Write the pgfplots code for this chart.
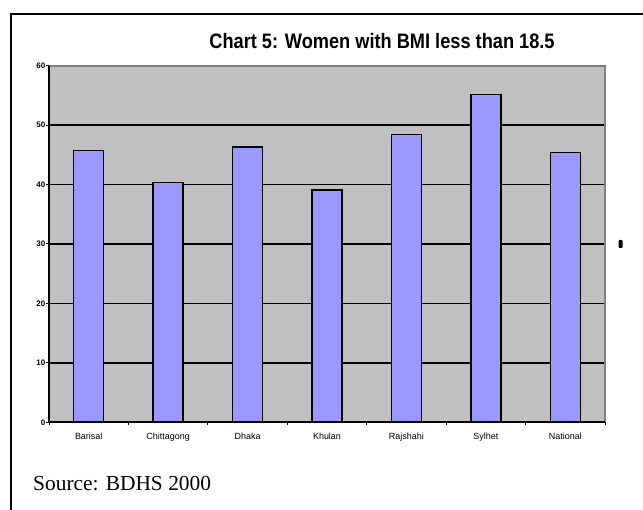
\documentclass[border=0pt]{standalone}
\usepackage{pgfplots}
\pgfplotsset{compat=1.18}
\usepackage{fontspec}
\setmainfont{Liberation Sans}
\newfontfamily\seriffont{Liberation Serif}
\definecolor{plotgray}{HTML}{C0C0C0}
\definecolor{bordergray}{HTML}{808080}
\definecolor{barblue}{HTML}{9999FF}

% share of women with BMI below 18.5, by division
\pgfplotstableread{
idx region     value
0   Barisal    45.7
1   Chittagong 40.3
2   Dhaka      46.3
3   Khulan     39.1
4   Rajshahi   48.4
5   Sylhet     55.2
6   National   45.4
}\bmidata

\begin{document}
\begin{tikzpicture}[x=1bp,y=1bp]
\begin{axis}[
  scale only axis, width=556bp, height=356.6bp,
  xmin=-0.5, xmax=6.5, ymin=0, ymax=60,
  axis background/.style={fill=plotgray},
  axis line style={draw=none},
  ytick={0,10,...,60},
  ymajorgrids, grid style={black, line width=1.4bp},
  tick pos=left, tick align=outside, major tick length=3bp,
  tick style={black, line width=1bp},
  xtick={-0.5,0.5,...,6.5}, xticklabels={},
  extra x ticks={0,1,2,3,4,5,6},
  extra x tick labels={Barisal,Chittagong,Dhaka,Khulan,Rajshahi,Sylhet,National},
  extra x tick style={major tick length=0pt},
  x tick label style={font=\fontsize{9}{10}\selectfont, inner sep=0pt, yshift=-11bp},
  y tick label style={font=\fontsize{8}{9}\selectfont\bfseries, inner sep=0pt, xshift=-0.5bp},
  /pgf/number format/assume math mode=true,
  clip=false,
]
\addplot[ybar, bar width=30bp, fill=barblue, draw=black, line width=1.3bp]
  table[x=idx, y=value] {\bmidata};
% plot area borders
\draw[bordergray, line width=2bp] (rel axis cs:0,1) -- (rel axis cs:1,1) -- (rel axis cs:1,0);
\draw[black, line width=2bp] (rel axis cs:0,1) -- (rel axis cs:0,0) -- (rel axis cs:1,0);
\coordinate (sw) at (rel axis cs:0,0);
\end{axis}
% page elements, in page units measured from the lower left corner
\begin{scope}[shift={(sw)}, shift={(-49,-87.7)}]
\useasboundingbox (0,0) rectangle (643,510);
\draw[line width=2bp] (11,0) -- (11,496) -- (643,496);
\node[anchor=base, inner sep=0, font=\fontsize{21}{24}\selectfont\bfseries] at (382,461.4)
  {\scalebox{0.87}[1]{Chart 5: Women with BMI less than 18.5}};
\fill[rounded corners=1bp] (618.5,262) rectangle (622.5,270);
\node[anchor=base west, inner sep=0, font=\seriffont\fontsize{21.5}{24}\selectfont] at (33,19.3)
  {Source: BDHS 2000};
\end{scope}
\end{tikzpicture}
\end{document}
